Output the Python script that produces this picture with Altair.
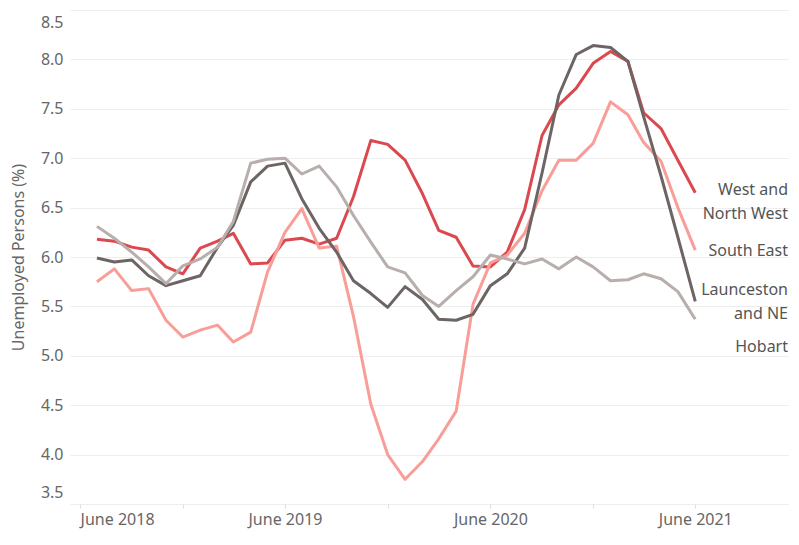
import altair as alt
import pandas as pd

months = pd.date_range("2018-07-01", "2021-06-01", freq="MS").strftime("%Y-%m-%d").tolist()

west_nw = [6.18, 6.16, 6.10, 6.07, 5.90, 5.83, 6.09, 6.16, 6.24, 5.93,
           5.94, 6.17, 6.19, 6.13, 6.19, 6.61, 7.18, 7.14, 6.98, 6.64,
           6.27, 6.20, 5.91, 5.90, 6.05, 6.48, 7.23, 7.54, 7.71, 7.96,
           8.08, 7.98, 7.46, 7.30, 6.98, 6.65]
south_east = [5.75, 5.88, 5.66, 5.68, 5.36, 5.19, 5.26, 5.31, 5.14, 5.24,
              5.85, 6.25, 6.49, 6.09, 6.11, 5.40, 4.51, 4.00, 3.75, 3.93,
              4.16, 4.44, 5.52, 5.94, 6.02, 6.24, 6.67, 6.98, 6.98, 7.15,
              7.57, 7.44, 7.16, 6.97, 6.50, 6.07]
launceston = [5.99, 5.95, 5.97, 5.81, 5.71, 5.76, 5.81, 6.10, 6.32, 6.76,
              6.92, 6.95, 6.59, 6.29, 6.05, 5.76, 5.63, 5.49, 5.70, 5.57,
              5.37, 5.36, 5.42, 5.71, 5.83, 6.09, 6.85, 7.64, 8.05, 8.14,
              8.12, 7.98, 7.42, 6.82, 6.20, 5.55]
hobart = [6.31, 6.19, 6.05, 5.90, 5.73, 5.91, 5.98, 6.10, 6.36, 6.95,
          6.99, 7.00, 6.84, 6.92, 6.71, 6.42, 6.15, 5.90, 5.84, 5.61,
          5.50, 5.66, 5.80, 6.02, 5.98, 5.93, 5.98, 5.88, 6.00, 5.90,
          5.76, 5.77, 5.83, 5.78, 5.65, 5.37]

series_names = ["West and North West", "South East", "Launceston and NE", "Hobart"]
series_values = [west_nw, south_east, launceston, hobart]
series_colors = ["#DC4850", "#F99D98", "#6D6464", "#B8AEAB"]

label_texts = ["West and\nNorth West", "South East", "Launceston\nand NE", "Hobart"]
label_y = [6.68, 6.06, 5.67, 5.09]

y_ticks = [3.5, 4.0, 4.5, 5.0, 5.5, 6.0, 6.5, 7.0, 7.5, 8.0, 8.5]

rows = []
for name, vals in zip(series_names, series_values):
    for m, v in zip(months, vals):
        rows.append({"month": m, "region": name, "value": v})
df = pd.DataFrame(rows)
labels_df = pd.DataFrame({"label": label_texts, "value": label_y, "region": series_names})

W, H = 719, 494
FONT = "Noto Sans"

x_tick_dates = []
for yr in [2018, 2019, 2020, 2021]:
    x_tick_dates.append(alt.DateTime(year=yr, month=6, date=1, utc=True))
    if yr < 2021:
        x_tick_dates.append(alt.DateTime(year=yr, month=12, date=1, utc=True))

x_scale = alt.Scale(type="utc", domain=[alt.DateTime(year=2018, month=5, date=14, utc=True),
                                        alt.DateTime(year=2021, month=11, date=15, utc=True)])
y_scale = alt.Scale(domain=[3.5, 8.5], nice=False, zero=False)

lines = alt.Chart(df).mark_line(strokeWidth=3, strokeJoin="round").encode(
    x=alt.X("month:T", scale=x_scale, title=None,
            axis=alt.Axis(values=x_tick_dates,
                          labelExpr="utcmonth(datum.value) == 5 ? utcFormat(datum.value, '%B %Y') : ''",
                          grid=False, domain=False, ticks=True, tickColor="#dddddd", tickSize=4,
                          labelFlush=20, labelFontSize=16, labelColor="#666666", labelFont=FONT,
                          labelPadding=3)),
    y=alt.Y("value:Q", scale=y_scale,
            axis=alt.Axis(values=y_ticks, format=".1f", labelFlush=True, labelFlushOffset=-4,
                          domain=False, ticks=False,
                          grid=True, gridColor="#eeeeee", labelColor="#666666", labelFontSize=16,
                          labelFont=FONT, labelPadding=7, title="Unemployed Persons (%)",
                          titleFontSize=16, titleFont=FONT, titleFontWeight="normal",
                          titleColor="#666666", titlePadding=14)),
    color=alt.Color("region:N", scale=alt.Scale(domain=series_names, range=series_colors), legend=None),
    order=alt.Order("month:T"),
)

texts = alt.Chart(labels_df).mark_text(align="right", baseline="middle", fontSize=16, font=FONT,
                                       color="#555555", lineBreak="\n", lineHeight=24).encode(
    x=alt.value(W - 1),
    y=alt.Y("value:Q", scale=y_scale),
    text="label:N",
)

chart = alt.layer(lines, texts).properties(
    width=W, height=H,
    autosize=alt.AutoSizeParams(type="none"),
    padding={"left": 62, "top": 2, "right": 0, "bottom": 28},
    background="white",
).configure_view(stroke=None)

chart.save("out.html", embed_options={"renderer": "svg", "actions": False})
